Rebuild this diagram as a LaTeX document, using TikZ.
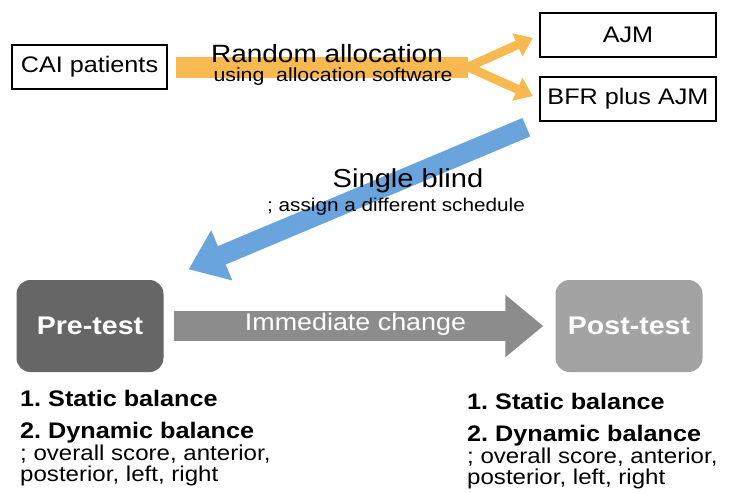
\documentclass[tikz,border=0pt]{standalone}
\usepackage{fontspec}
\setmainfont{Liberation Sans}[FakeStretch=1.12]
\usetikzlibrary{arrows.meta}
\definecolor{allocorange}{RGB}{248,186,80}
\definecolor{blindblue}{RGB}{105,165,220}
\definecolor{pregray}{RGB}{102,102,102}
\definecolor{postgray}{RGB}{163,163,163}
\definecolor{changegray}{RGB}{140,140,140}
\frenchspacing

\begin{document}
\begin{tikzpicture}[x=1pt,y=-1pt,
  groupbox/.style={draw,line width=1.5pt,inner sep=0pt,minimum height=44pt,font=\fontsize{22.5}{23}\selectfont},
  testbox/.style={rounded corners=14pt,inner sep=0pt,minimum width=147pt,minimum height=92pt,text=white,font=\bfseries\fontsize{25.5}{26}\selectfont},
  alloc/.style={allocorange,line width=21pt},
  allocbranch/.style={allocorange,line width=9pt,-{Triangle[length=17pt,width=24pt]}},
  blind/.style={blindblue,line width=20pt,-{Triangle[length=36pt,width=52pt]}},
  change/.style={changegray,line width=30pt,-{Triangle[length=38pt,width=60pt]}},
  outcomes/.style={anchor=north west,inner sep=0pt,align=left,font=\fontsize{21.5}{21.5}\selectfont}]
\useasboundingbox (0,0) rectangle (729,493);

\node[groupbox,minimum width=155pt] (cai) at (89.5,67) {CAI patients};
\node[groupbox,minimum width=176pt] (ajm) at (628,35) {AJM};
\node[groupbox,minimum width=176pt] (bfr) at (628,99) {BFR plus AJM};

\coordinate (split) at (468,67);
\draw[alloc,shorten <=8pt] (cai.east) -- (split);
\draw[allocbranch,shorten >=7pt] (split) -- (ajm.west);
\draw[allocbranch,shorten >=7pt] (split) -- (bfr.west);
\node[font=\fontsize{25}{25}\selectfont] (random) at (327,54) {Random allocation};
\node[font=\fontsize{19}{19}\selectfont] (software) at (333,77) {using\ \ allocation software};

\node[testbox,fill=pregray] (pre) at (90,326) {Pre-test};
\node[testbox,fill=postgray] (post) at (629,326) {Post-test};

\draw[blind,shorten <=14pt,shorten >=27pt] (bfr.south west) -- (pre.north east);
\node[font=\fontsize{26}{26}\selectfont] (single) at (408,181) {Single blind};
\node[font=\fontsize{18.5}{18.5}\selectfont] (schedule) at (396,207) {; assign a different schedule};

\draw[change,shorten <=10pt,shorten >=12pt] (pre.east) -- (post.west)
  node[midway,xshift=-4pt,yshift=2pt,text=white,font=\fontsize{24}{24}\selectfont] (immediate) {Immediate change};

\node[outcomes] (preout) at (20,390) {{\bfseries\fontsize{22.5}{21.5}\selectfont 1. Static balance}\\[10.5pt]
  {\bfseries\fontsize{22.5}{21.5}\selectfont 2. Dynamic balance}\\; overall score, anterior,\\posterior, left, right};
\node[outcomes] (postout) at (467,393) {{\bfseries\fontsize{22.5}{21.5}\selectfont 1. Static balance}\\[10.5pt]
  {\bfseries\fontsize{22.5}{21.5}\selectfont 2. Dynamic balance}\\; overall score, anterior,\\posterior, left, right};
\end{tikzpicture}
\end{document}
